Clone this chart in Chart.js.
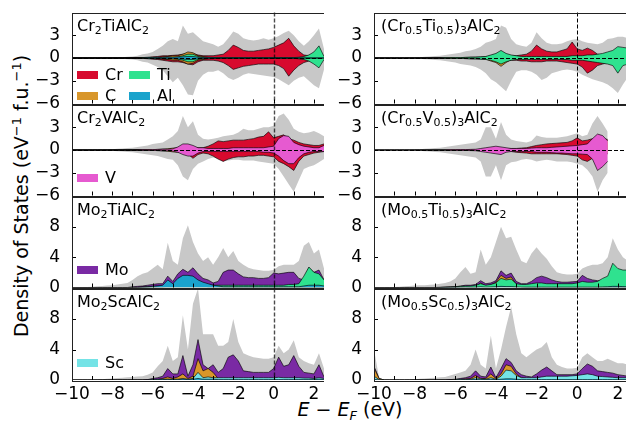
<!DOCTYPE html>
<html>
<head>
<meta charset="utf-8">
<script src="https://cdn.jsdelivr.net/npm/chart.js@4.4.0/dist/chart.umd.min.js"></script>
<style>
  body { margin: 0; width: 626px; height: 422px; overflow: hidden; background: #fff; position: relative;
         font-family: "DejaVu Sans", sans-serif; color: #000; }
  canvas { position: absolute; }
  .title { position: absolute; font-size: 16px; line-height: 16px; white-space: nowrap; }
  .title sub { font-size: 11px; line-height: 0; vertical-align: -3px; }
  .patch { position: absolute; width: 21px; height: 8px; }
  .legtxt { position: absolute; font-size: 16px; line-height: 16px; white-space: nowrap; }
  #ylab { position: absolute; width: 400px; left: -179px; top: 186px; font-size: 19px; line-height: 20px;
          text-align: center; transform: rotate(-90deg); white-space: nowrap; }
  #ylab sup { font-size: 13px; line-height: 0; vertical-align: 7px; }
  #xlab { position: absolute; width: 200px; left: 250px; top: 400px; font-size: 19px; line-height: 19px;
          text-align: center; white-space: nowrap; }
  #xlab sub { font-size: 13px; line-height: 0; vertical-align: -4px; }
</style>
</head>
<body>
<div id="ylab">Density of States (eV<sup>−1</sup> f.u.<sup>−1</sup>)</div>
<div id="xlab"><i>E</i> − <i>E</i><sub><i>F</i></sub> (eV)</div>
<script>
// energy grid, eV
const energies = [
  -10, -9.75, -9.5, -9.25, -9, -8.75, -8.5, -8.25, -8, -7.75,
  -7.5, -7.25, -7, -6.75, -6.5, -6.25, -6, -5.75, -5.5, -5.25,
  -5, -4.75, -4.5, -4.25, -4, -3.75, -3.5, -3.25, -3, -2.75,
  -2.5, -2.25, -2, -1.75, -1.5, -1.25, -1, -0.75, -0.5, -0.25,
  0, 0.25, 0.5, 0.75, 1, 1.25, 1.5, 1.75, 2, 2.25, 2.5
];

// --- Cr2TiAlC2 (spin up / spin down)
const ctaTotUp = [
  0, 0, 0, 0, 0, 0, 0, 0.02, 0.03, 0.05,
  0.1, 0.15, 0.2, 0.3, 0.5, 0.6, 0.8, 1.2, 1.6, 2.2,
  2.5, 2.2, 4.3, 3.2, 3.4, 2.8, 2.2, 2.0, 1.8, 1.5,
  1.8, 2.6, 3.5, 3.2, 2.6, 2.4, 2.3, 2.4, 2.6, 2.4,
  2.6, 2.9, 3.3, 3.6, 3.0, 2.2, 1.6, 2.2, 3.0, 3.9, 1.2
];
const ctaTotDn = [
  0, 0, 0, 0, 0, 0, 0, -0.02, -0.03, -0.05,
  -0.1, -0.15, -0.2, -0.3, -0.5, -0.6, -0.9, -1.2, -1.6, -2.4,
  -3.2, -2.6, -3.6, -4.8, -4.9, -3.0, -2.2, -1.8, -1.8, -1.6,
  -2.0, -2.6, -2.9, -2.6, -2.2, -2.0, -2.1, -2.2, -2.3, -2.4,
  -2.5, -2.8, -3.2, -3.6, -3.0, -2.6, -2.4, -3.0, -3.6, -4.0, -1.5
];
const ctaCrUp = [
  0, 0, 0, 0, 0, 0, 0, 0, 0, 0,
  0, 0, 0.02, 0.03, 0.05, 0.1, 0.15, 0.2, 0.3, 0.3,
  0.35, 0.4, 0.5, 0.6, 0.6, 0.4, 0.3, 0.3, 0.3, 0.4,
  0.5, 1.0, 1.7, 1.4, 1.0, 0.9, 0.9, 1.0, 1.1, 1.2,
  1.4, 1.7, 2.0, 2.6, 1.6, 0.9, 0.4, 0.3, 0.3, 0.3, 0.05
];
const ctaCrDn = [
  0, 0, 0, 0, 0, 0, 0, 0, 0, 0,
  0, 0, -0.02, -0.03, -0.05, -0.1, -0.15, -0.2, -0.3, -0.4,
  -0.5, -0.5, -0.6, -0.8, -0.9, -0.5, -0.3, -0.3, -0.3, -0.4,
  -0.6, -1.0, -1.5, -1.3, -1.1, -1.0, -0.9, -0.8, -0.8, -0.8,
  -0.8, -1.0, -1.4, -2.4, -1.6, -1.0, -0.6, -0.4, -0.3, -0.3, -0.1
];
const ctaCUp = [
  0, 0, 0, 0, 0, 0, 0, 0, 0, 0,
  0, 0, 0, 0, 0.02, 0.05, 0.08, 0.1, 0.15, 0.2,
  0.3, 0.3, 0.5, 0.8, 0.7, 0.3, 0.2, 0.1, 0.05, 0.05,
  0.05, 0.05, 0.05, 0.05, 0.05, 0.03, 0.03, 0.03, 0.03, 0.03,
  0.03, 0.03, 0.03, 0.03, 0.03, 0.03, 0.03, 0.03, 0.03, 0.03, 0.02
];
const ctaCDn = [
  0, 0, 0, 0, 0, 0, 0, 0, 0, 0,
  0, 0, 0, 0, -0.02, -0.05, -0.08, -0.1, -0.15, -0.2,
  -0.3, -0.3, -0.5, -0.8, -0.7, -0.3, -0.2, -0.1, -0.05, -0.05,
  -0.05, -0.05, -0.05, -0.05, -0.05, -0.03, -0.03, -0.03, -0.03, -0.03,
  -0.03, -0.03, -0.03, -0.03, -0.03, -0.03, -0.03, -0.03, -0.03, -0.03, -0.02
];
const ctaTiUp = [
  0, 0, 0, 0, 0, 0, 0, 0, 0, 0,
  0, 0, 0, 0, 0.02, 0.03, 0.05, 0.05, 0.1, 0.1,
  0.1, 0.15, 0.3, 0.5, 0.5, 0.2, 0.1, 0.05, 0.05, 0.05,
  0.05, 0.05, 0.05, 0.05, 0.05, 0.05, 0.05, 0.05, 0.05, 0.05,
  0.05, 0.05, 0.05, 0.05, 0.05, 0.1, 0.2, 0.4, 0.8, 1.6, 0.2
];
const ctaTiDn = [
  0, 0, 0, 0, 0, 0, 0, 0, 0, 0,
  0, 0, 0, 0, -0.02, -0.03, -0.05, -0.05, -0.1, -0.1,
  -0.1, -0.15, -0.3, -0.5, -0.5, -0.2, -0.1, -0.05, -0.05, -0.05,
  -0.05, -0.05, -0.05, -0.05, -0.05, -0.05, -0.05, -0.05, -0.05, -0.05,
  -0.05, -0.05, -0.05, -0.05, -0.05, -0.1, -0.2, -0.4, -0.8, -1.3, -0.2
];
const ctaAlUp = [
  0, 0, 0, 0, 0, 0, 0, 0, 0, 0,
  0, 0, 0, 0, 0, 0.02, 0.03, 0.05, 0.08, 0.1,
  0.1, 0.12, 0.15, 0.2, 0.2, 0.1, 0.05, 0.05, 0.03, 0.03,
  0.03, 0.03, 0.03, 0.03, 0.03, 0.03, 0.03, 0.03, 0.03, 0.03,
  0.03, 0.03, 0.03, 0.03, 0.03, 0.03, 0.03, 0.03, 0.03, 0.03, 0.02
];
const ctaAlDn = [
  0, 0, 0, 0, 0, 0, 0, 0, 0, 0,
  0, 0, 0, 0, 0, -0.02, -0.03, -0.05, -0.08, -0.1,
  -0.1, -0.12, -0.15, -0.2, -0.2, -0.1, -0.05, -0.05, -0.03, -0.03,
  -0.03, -0.03, -0.03, -0.03, -0.03, -0.03, -0.03, -0.03, -0.03, -0.03,
  -0.03, -0.03, -0.03, -0.03, -0.03, -0.03, -0.03, -0.03, -0.03, -0.03, -0.02
];

// --- Cr2VAlC2
const cvaTotUp = [
  0, 0, 0, 0, 0, 0, 0.02, 0.05, 0.1, 0.15,
  0.2, 0.25, 0.3, 0.4, 0.5, 0.6, 0.8, 0.9, 1.0, 1.4,
  1.8, 2.5, 4.5, 3.0, 3.8, 2.0, 1.5, 1.4, 1.5, 1.6,
  1.8, 1.9, 2.0, 2.3, 2.8, 2.6, 2.6, 2.8, 3.0, 3.0,
  3.2, 4.5, 4.8, 4.0, 2.8, 2.4, 2.2, 2.3, 2.5, 2.2, 1.8
];
const cvaTotDn = [
  0, 0, 0, 0, 0, 0, -0.02, -0.05, -0.1, -0.15,
  -0.2, -0.25, -0.3, -0.4, -0.5, -0.6, -0.7, -0.8, -1.0, -1.2,
  -1.3, -2.0, -3.5, -4.0, -2.5, -1.8, -1.5, -1.2, -1.0, -1.2,
  -1.5, -1.4, -1.3, -1.3, -1.4, -1.4, -1.4, -1.5, -1.6, -1.7,
  -1.8, -2.5, -3.5, -4.5, -5.5, -4.0, -2.5, -2.2, -2.0, -1.6, -1.2
];
const cvaCrUp = [
  0, 0, 0, 0, 0, 0, 0, 0, 0, 0,
  0, 0, 0, 0.02, 0.03, 0.05, 0.05, 0.08, 0.1, 0.1,
  0.15, 0.2, 0.3, 0.3, 0.3, 0.3, 0.3, 0.5, 0.8, 1.2,
  1.1, 1.2, 1.3, 1.3, 1.3, 1.4, 1.5, 1.7, 1.8, 2.4,
  1.6, 1.8, 2.0, 1.5, 1.3, 1.0, 0.8, 0.7, 0.6, 0.6, 0.8
];
const cvaCrDn = [
  0, 0, 0, 0, 0, 0, 0, 0, 0, 0,
  0, 0, 0, -0.02, -0.03, -0.05, -0.05, -0.08, -0.1, -0.1,
  -0.15, -0.2, -0.3, -0.5, -1.1, -0.6, -0.4, -0.5, -0.8, -1.2,
  -1.5, -1.2, -1.0, -0.9, -0.9, -0.8, -0.8, -0.7, -0.7, -0.8,
  -0.9, -1.5, -1.8, -2.2, -2.7, -1.5, -0.8, -0.6, -0.4, -0.3, -0.2
];
const cvaCUp = [
  0, 0, 0, 0, 0, 0, 0, 0, 0, 0,
  0, 0, 0, 0, 0, 0.02, 0.05, 0.08, 0.1, 0.15,
  0.25, 0.3, 0.2, 0.15, 0.1, 0.05, 0.05, 0.05, 0.03, 0.03,
  0.03, 0.03, 0.03, 0.03, 0.03, 0.03, 0.03, 0.03, 0.03, 0.03,
  0.02, 0.02, 0.02, 0.02, 0.02, 0.02, 0.02, 0.02, 0.02, 0.02, 0.02
];
const cvaCDn = [
  0, 0, 0, 0, 0, 0, 0, 0, 0, 0,
  0, 0, 0, 0, 0, -0.02, -0.05, -0.08, -0.1, -0.15,
  -0.25, -0.3, -0.2, -0.15, -0.1, -0.05, -0.05, -0.05, -0.03, -0.03,
  -0.03, -0.03, -0.03, -0.03, -0.03, -0.03, -0.03, -0.03, -0.03, -0.03,
  -0.02, -0.02, -0.02, -0.02, -0.02, -0.02, -0.02, -0.02, -0.02, -0.02, -0.02
];
const cvaVUp = [
  0, 0, 0, 0, 0, 0, 0, 0, 0, 0,
  0, 0, 0, 0, 0.02, 0.03, 0.05, 0.05, 0.1, 0.1,
  0.15, 0.4, 0.8, 0.8, 0.6, 0.3, 0.3, 0.2, 0.2, 0.2,
  0.2, 0.2, 0.3, 0.3, 0.3, 0.3, 0.3, 0.3, 0.3, 0.4,
  0.5, 1.5, 1.9, 1.8, 1.0, 0.7, 0.5, 0.4, 0.3, 0.3, 0.6
];
const cvaVDn = [
  0, 0, 0, 0, 0, 0, 0, 0, 0, 0,
  0, 0, 0, 0, -0.02, -0.03, -0.05, -0.05, -0.1, -0.1,
  -0.15, -0.3, -0.6, -0.8, -0.8, -0.4, -0.2, -0.2, -0.2, -0.2,
  -0.2, -0.2, -0.2, -0.2, -0.2, -0.2, -0.2, -0.2, -0.3, -0.3,
  -0.4, -0.8, -1.4, -1.8, -1.8, -1.0, -0.5, -0.3, -0.2, -0.2, -0.2
];

// --- Mo2TiAlC2
const mtaTot = [
  0, 0, 0.05, 0.08, 0.1, 0.15, 0.2, 0.25, 0.3, 0.4,
  0.5, 0.6, 1.0, 1.5, 1.8, 2.0, 2.5, 3.0, 2.4, 5.9,
  3.5, 3.0, 6.5, 8.2, 6.0, 4.5, 3.5, 4.0, 3.0, 4.0,
  5.2, 4.0, 4.8, 3.5, 3.0, 2.6, 2.4, 2.3, 2.2, 2.2,
  2.3, 2.8, 3.0, 3.0, 3.0, 3.5, 5.5, 6.0, 4.5, 5.0, 2.5
];
const mtaMo = [
  0, 0, 0, 0, 0, 0, 0, 0, 0, 0,
  0, 0, 0.1, 0.15, 0.2, 0.3, 0.4, 0.5, 0.5, 1.5,
  0.8, 1.8, 2.4, 2.0, 2.6, 1.8, 1.2, 1.0, 0.6, 0.8,
  2.0, 2.3, 2.3, 1.8, 1.4, 1.3, 1.3, 1.2, 1.2, 1.3,
  1.9, 1.8, 1.9, 2.0, 2.0, 1.2, 1.0, 2.6, 2.0, 2.3, 1.0
];
const mtaC = [
  0, 0, 0, 0, 0, 0, 0, 0, 0, 0,
  0, 0, 0, 0, 0.05, 0.1, 0.15, 0.2, 0.2, 0.3,
  0.2, 0.3, 0.3, 0.3, 0.3, 0.2, 0.2, 0.1, 0.1, 0.1,
  0.05, 0.05, 0.05, 0.05, 0.05, 0.05, 0.05, 0.05, 0.05, 0.05,
  0.05, 0.05, 0.05, 0.05, 0.05, 0.05, 0.05, 0.05, 0.05, 0.05, 0.05
];
const mtaTi = [
  0, 0, 0, 0, 0, 0, 0, 0, 0, 0,
  0, 0, 0, 0.02, 0.05, 0.05, 0.08, 0.1, 0.1, 0.15,
  0.15, 0.2, 0.2, 0.2, 0.2, 0.2, 0.2, 0.25, 0.3, 0.3,
  0.3, 0.3, 0.3, 0.3, 0.3, 0.3, 0.3, 0.3, 0.3, 0.3,
  0.3, 0.3, 0.3, 0.4, 0.4, 0.5, 1.5, 2.7, 2.0, 1.8, 1.0
];
const mtaAl = [
  0, 0, 0, 0, 0, 0, 0, 0, 0, 0,
  0, 0, 0, 0, 0.05, 0.1, 0.15, 0.2, 0.3, 1.0,
  0.5, 1.2, 1.6, 1.6, 1.5, 1.0, 0.7, 0.5, 0.3, 0.2,
  0.1, 0.1, 0.1, 0.1, 0.1, 0.1, 0.1, 0.1, 0.1, 0.1,
  0.1, 0.1, 0.1, 0.1, 0.1, 0.1, 0.2, 0.3, 0.3, 0.3, 0.2
];

// --- Mo2ScAlC2
const msaTot = [
  0, 0, 0, 0, 0, 0.05, 0.1, 0.15, 0.2, 0.25,
  0.3, 0.35, 0.4, 0.45, 0.5, 0.7, 1.0, 1.8, 2.5, 4.5,
  2.5, 3.0, 8.5, 4.0, 10.0, 12.0, 6.0, 6.0, 6.0, 4.5,
  4.5, 5.0, 8.0, 5.0, 3.5, 3.2, 3.0, 2.9, 2.8, 2.8,
  3.0, 4.5, 3.5, 4.0, 5.2, 3.0, 2.5, 2.2, 2.0, 3.5, 1.5
];
const msaMo = [
  0, 0, 0, 0, 0, 0, 0, 0, 0, 0,
  0, 0, 0, 0, 0, 0.05, 0.2, 0.3, 0.5, 1.5,
  0.8, 0.8, 3.2, 0.5, 2.0, 5.3, 2.0, 1.5, 2.0, 1.0,
  1.5, 3.0, 3.3, 2.5, 1.2, 1.1, 1.0, 1.0, 1.0, 1.0,
  1.5, 3.0, 1.8, 2.0, 3.2, 1.8, 1.0, 0.9, 0.8, 2.0, 0.4
];
const msaC = [
  0, 0, 0, 0, 0, 0, 0, 0, 0, 0,
  0, 0, 0, 0, 0, 0, 0.05, 0.1, 0.2, 0.4,
  0.2, 0.4, 0.8, 0.2, 0.5, 2.8, 1.2, 1.5, 1.0, 0.2,
  0.1, 0.1, 0.1, 0.05, 0.05, 0.05, 0.05, 0.05, 0.05, 0.05,
  0.05, 0.05, 0.05, 0.05, 0.05, 0.05, 0.05, 0.05, 0.05, 0.05, 0.05
];
const msaSc = [
  0, 0, 0, 0, 0, 0, 0, 0, 0, 0,
  0, 0, 0, 0, 0, 0, 0.02, 0.05, 0.1, 0.1,
  0.1, 0.1, 0.2, 0.1, 0.2, 1.0, 0.3, 0.4, 0.3, 0.3,
  0.3, 0.3, 0.3, 0.3, 0.3, 0.3, 0.3, 0.3, 0.3, 0.3,
  0.3, 0.35, 0.3, 0.3, 0.3, 0.3, 0.25, 0.25, 0.2, 0.3, 0.2
];
const msaAl = [
  0, 0, 0, 0, 0, 0, 0, 0, 0, 0,
  0, 0, 0, 0, 0, 0, 0.02, 0.03, 0.05, 0.08,
  0.05, 0.05, 0.1, 0.05, 0.1, 0.2, 0.1, 0.1, 0.1, 0.05,
  0.05, 0.05, 0.05, 0.05, 0.05, 0.05, 0.05, 0.05, 0.05, 0.05,
  0.05, 0.05, 0.05, 0.05, 0.05, 0.05, 0.05, 0.05, 0.05, 0.1, 0.05
];

// --- (Cr0.5Ti0.5)3AlC2
const ctTotUp = [
  0, 0, 0, 0, 0, 0, 0, 0.02, 0.05, 0.1,
  0.15, 0.2, 0.25, 0.3, 0.4, 0.5, 0.6, 0.7, 0.9, 1.0,
  1.2, 1.5, 2.0, 2.2, 2.5, 4.3, 4.0, 2.5, 1.8, 1.6,
  1.5, 2.0, 3.4, 2.6, 2.0, 1.8, 1.8, 1.9, 2.2, 2.4,
  2.5, 2.2, 2.0, 1.9, 1.8, 2.0, 2.5, 2.6, 2.8, 2.8, 2.6
];
const ctTotDn = [
  0, 0, 0, 0, 0, 0, 0, -0.02, -0.05, -0.1,
  -0.15, -0.2, -0.25, -0.3, -0.4, -0.5, -0.6, -0.8, -0.9, -1.0,
  -1.2, -1.5, -2.0, -2.8, -3.2, -3.8, -4.4, -3.0, -1.8, -1.6,
  -1.6, -1.8, -2.2, -2.9, -2.6, -2.0, -1.8, -1.6, -1.5, -1.6,
  -1.8, -2.2, -2.5, -2.8, -3.0, -3.2, -3.5, -4.0, -4.6, -3.5, -2.5
];
const ctCrUp = [
  0, 0, 0, 0, 0, 0, 0, 0, 0, 0,
  0, 0, 0, 0, 0.02, 0.03, 0.05, 0.05, 0.08, 0.1,
  0.1, 0.12, 0.15, 0.2, 0.2, 0.3, 0.3, 0.3, 0.3, 0.4,
  0.5, 0.9, 1.7, 1.2, 0.9, 0.8, 0.8, 1.0, 1.2, 2.1,
  1.2, 1.0, 1.3, 1.0, 0.5, 0.4, 0.3, 0.3, 0.2, 0.2, 0.2
];
const ctCrDn = [
  0, 0, 0, 0, 0, 0, 0, 0, 0, 0,
  0, 0, 0, 0, -0.02, -0.03, -0.05, -0.05, -0.08, -0.1,
  -0.1, -0.12, -0.15, -0.2, -0.3, -0.4, -0.4, -0.3, -0.3, -0.4,
  -0.4, -0.5, -0.5, -0.5, -0.4, -0.4, -0.4, -0.5, -0.6, -0.7,
  -0.8, -1.2, -2.0, -1.6, -1.0, -0.8, -0.6, -0.5, -0.5, -0.4, -0.3
];
const ctCUp = [
  0, 0, 0, 0, 0, 0, 0, 0, 0, 0,
  0, 0, 0, 0, 0, 0.02, 0.03, 0.05, 0.05, 0.08,
  0.1, 0.1, 0.15, 0.3, 0.5, 0.8, 0.5, 0.2, 0.1, 0.05,
  0.05, 0.05, 0.05, 0.05, 0.05, 0.05, 0.05, 0.05, 0.05, 0.05,
  0.03, 0.03, 0.03, 0.03, 0.03, 0.03, 0.03, 0.03, 0.03, 0.03, 0.03
];
const ctCDn = [
  0, 0, 0, 0, 0, 0, 0, 0, 0, 0,
  0, 0, 0, 0, 0, -0.02, -0.03, -0.05, -0.05, -0.08,
  -0.1, -0.1, -0.15, -0.4, -0.6, -1.1, -0.6, -0.2, -0.1, -0.05,
  -0.05, -0.05, -0.05, -0.05, -0.05, -0.05, -0.05, -0.05, -0.05, -0.05,
  -0.03, -0.03, -0.03, -0.03, -0.03, -0.03, -0.03, -0.03, -0.03, -0.03, -0.03
];
const ctTiUp = [
  0, 0, 0, 0, 0, 0, 0, 0, 0, 0,
  0, 0, 0, 0, 0.02, 0.03, 0.05, 0.05, 0.08, 0.1,
  0.1, 0.15, 0.2, 0.4, 0.6, 1.0, 0.6, 0.4, 0.3, 0.2,
  0.2, 0.2, 0.2, 0.2, 0.2, 0.2, 0.2, 0.2, 0.2, 0.3,
  0.3, 0.3, 0.4, 0.4, 0.5, 0.6, 0.8, 1.0, 1.5, 1.4, 1.3
];
const ctTiDn = [
  0, 0, 0, 0, 0, 0, 0, 0, 0, 0,
  0, 0, 0, 0, -0.02, -0.03, -0.05, -0.05, -0.08, -0.1,
  -0.1, -0.15, -0.2, -0.3, -0.5, -0.8, -0.5, -0.3, -0.2, -0.2,
  -0.2, -0.2, -0.2, -0.2, -0.2, -0.2, -0.2, -0.2, -0.2, -0.3,
  -0.3, -0.3, -0.4, -0.5, -0.6, -0.7, -0.8, -1.0, -2.0, -1.0, -0.8
];

// --- (Cr0.5V0.5)3AlC2, computed only up to 1.5 eV
const cvTotUp = [
  0, 0, 0, 0, 0, 0, 0.02, 0.03, 0.05, 0.1,
  0.15, 0.2, 0.25, 0.3, 0.4, 0.5, 0.6, 0.7, 0.8, 0.9,
  1.0, 1.4, 3.0, 3.0, 1.5, 3.7, 2.0, 1.4, 1.2, 1.1,
  1.0, 1.2, 1.9, 1.7, 1.6, 1.6, 1.6, 1.7, 1.8, 2.0,
  2.2, 1.8, 2.0, 3.5, 4.5, 3.5, 2.4, null, null, null, null
];
const cvTotDn = [
  0, 0, 0, 0, 0, 0, -0.02, -0.03, -0.05, -0.1,
  -0.15, -0.2, -0.25, -0.3, -0.4, -0.5, -0.6, -0.7, -0.8, -0.9,
  -1.0, -1.5, -3.5, -3.5, -2.0, -4.0, -2.0, -1.6, -1.5, -1.3,
  -1.2, -1.3, -1.5, -1.4, -1.3, -1.4, -1.5, -1.5, -1.5, -1.6,
  -1.8, -2.0, -2.6, -3.5, -5.5, -4.0, -3.0, null, null, null, null
];
const cvCrUp = [
  0, 0, 0, 0, 0, 0, 0, 0, 0, 0,
  0, 0, 0, 0, 0, 0.02, 0.03, 0.05, 0.05, 0.05,
  0.05, 0.08, 0.1, 0.1, 0.1, 0.15, 0.15, 0.2, 0.2, 0.25,
  0.3, 0.45, 0.6, 0.7, 0.8, 0.85, 0.9, 0.95, 1.0, 1.2,
  1.6, 1.2, 1.3, 1.5, 1.5, 1.5, 1.4, null, null, null, null
];
const cvCrDn = [
  0, 0, 0, 0, 0, 0, 0, 0, 0, 0,
  0, 0, 0, 0, 0, -0.02, -0.03, -0.05, -0.05, -0.05,
  -0.05, -0.08, -0.1, -0.1, -0.1, -0.15, -0.15, -0.2, -0.3, -0.35,
  -0.4, -0.5, -0.5, -0.5, -0.5, -0.5, -0.5, -0.55, -0.6, -0.7,
  -0.8, -1.3, -1.5, -1.1, -0.8, -0.6, -0.5, null, null, null, null
];
const cvVUp = [
  0, 0, 0, 0, 0, 0, 0, 0, 0, 0,
  0, 0, 0, 0, 0, 0.02, 0.03, 0.05, 0.05, 0.08,
  0.1, 0.2, 0.3, 0.4, 0.5, 0.4, 0.3, 0.2, 0.2, 0.2,
  0.2, 0.25, 0.3, 0.3, 0.3, 0.35, 0.4, 0.45, 0.5, 0.55,
  0.6, 0.7, 0.8, 1.5, 2.1, 1.9, 1.2, null, null, null, null
];
const cvVDn = [
  0, 0, 0, 0, 0, 0, 0, 0, 0, 0,
  0, 0, 0, 0, 0, -0.02, -0.03, -0.05, -0.05, -0.08,
  -0.1, -0.2, -0.3, -0.4, -0.5, -0.6, -0.3, -0.2, -0.2, -0.2,
  -0.2, -0.2, -0.3, -0.3, -0.3, -0.35, -0.4, -0.4, -0.45, -0.5,
  -0.5, -0.55, -0.6, -1.2, -2.7, -2.2, -1.5, null, null, null, null
];

// --- (Mo0.5Ti0.5)3AlC2
const mtTot = [
  0, 0, 0, 0.02, 0.05, 0.1, 0.15, 0.2, 0.25, 0.3,
  0.3, 0.35, 0.4, 0.5, 0.6, 0.8, 1.2, 2.0, 2.7, 1.8,
  2.0, 5.0, 3.0, 4.0, 6.0, 8.0, 6.5, 6.7, 5.0, 3.5,
  3.2, 4.5, 5.3, 4.5, 3.8, 2.8, 2.0, 1.8, 1.7, 1.7,
  1.8, 2.5, 2.8, 3.0, 3.0, 3.2, 4.0, 6.5, 5.0, 4.0, 3.5
];
const mtMo = [
  0, 0, 0, 0, 0, 0, 0, 0, 0, 0,
  0, 0, 0, 0.02, 0.05, 0.08, 0.1, 0.2, 0.3, 0.3,
  0.4, 0.9, 0.5, 0.6, 0.9, 2.2, 1.6, 1.9, 0.8, 0.5,
  0.5, 0.8, 1.3, 1.5, 1.3, 1.0, 0.8, 0.7, 0.7, 0.75,
  0.8, 1.6, 1.2, 1.0, 0.9, 0.9, 0.9, 2.0, 1.6, 1.4, 1.2
];
const mtC = [
  0, 0, 0, 0, 0, 0, 0, 0, 0, 0,
  0, 0, 0, 0, 0, 0.02, 0.05, 0.1, 0.1, 0.1,
  0.1, 0.6, 0.2, 0.35, 0.7, 1.6, 1.2, 1.4, 0.4, 0.1,
  0.05, 0.05, 0.05, 0.05, 0.05, 0.05, 0.05, 0.05, 0.05, 0.05,
  0.05, 0.05, 0.05, 0.05, 0.05, 0.05, 0.05, 0.05, 0.05, 0.05, 0.05
];
const mtTi = [
  0, 0, 0, 0, 0, 0, 0, 0, 0, 0,
  0, 0, 0, 0.02, 0.05, 0.08, 0.1, 0.15, 0.2, 0.2,
  0.3, 0.5, 0.3, 0.4, 0.6, 1.2, 1.0, 1.1, 0.5, 0.4,
  0.4, 0.5, 0.6, 0.6, 0.5, 0.5, 0.5, 0.5, 0.5, 0.5,
  0.6, 0.8, 0.7, 0.7, 0.8, 1.2, 1.5, 3.2, 2.5, 2.3, 2.3
];
const mtAl = [
  0, 0, 0, 0, 0, 0, 0, 0, 0, 0,
  0, 0, 0, 0, 0.02, 0.03, 0.05, 0.05, 0.08, 0.05,
  0.05, 0.1, 0.05, 0.08, 0.1, 0.15, 0.12, 0.12, 0.08, 0.05,
  0.05, 0.05, 0.05, 0.05, 0.05, 0.05, 0.05, 0.05, 0.05, 0.05,
  0.05, 0.05, 0.05, 0.05, 0.05, 0.08, 0.1, 0.15, 0.15, 0.12, 0.1
];

// --- (Mo0.5Sc0.5)3AlC2
const msTot = [
  4.0, 0.3, 0, 0, 0, 0, 0, 0.02, 0.1, 0.15,
  0.2, 0.25, 0.3, 0.35, 0.4, 0.6, 0.8, 1.0, 1.2, 2.0,
  4.0, 2.0, 1.5, 5.8, 1.5, 4.0, 7.0, 9.6, 6.0, 3.5,
  3.0, 3.5, 4.0, 4.3, 5.0, 3.0, 2.0, 1.7, 1.5, 1.5,
  1.6, 3.0, 3.5, 3.0, 2.5, 2.5, 2.8, 2.5, 2.2, 2.2, 2.0
];
const msMo = [
  1.8, 0.2, 0, 0, 0, 0, 0, 0, 0, 0,
  0, 0, 0, 0, 0, 0.05, 0.1, 0.2, 0.3, 0.5,
  1.2, 0.5, 0.4, 1.7, 0.3, 1.5, 2.8, 2.3, 1.2, 0.7,
  0.5, 0.4, 0.8, 1.3, 1.7, 1.2, 0.7, 0.7, 0.7, 0.7,
  0.8, 1.5, 2.1, 1.8, 1.2, 1.1, 1.0, 0.9, 0.7, 0.6, 0.5
];
const msC = [
  1.6, 0.2, 0, 0, 0, 0, 0, 0, 0, 0,
  0, 0, 0, 0, 0, 0, 0.05, 0.1, 0.15, 0.2,
  0.6, 0.2, 0.2, 0.8, 0.2, 0.8, 2.0, 1.8, 0.8, 0.3,
  0.2, 0.1, 0.1, 0.1, 0.1, 0.05, 0.05, 0.05, 0.05, 0.05,
  0.05, 0.05, 0.05, 0.05, 0.05, 0.05, 0.05, 0.05, 0.05, 0.05, 0.05
];
const msSc = [
  0.5, 0.05, 0, 0, 0, 0, 0, 0, 0, 0,
  0, 0, 0, 0, 0, 0, 0.02, 0.05, 0.05, 0.1,
  0.3, 0.15, 0.1, 0.3, 0.1, 0.5, 1.3, 1.2, 0.6, 0.3,
  0.3, 0.3, 0.3, 0.4, 0.5, 0.5, 0.5, 0.5, 0.5, 0.55,
  0.6, 0.7, 0.8, 0.7, 0.5, 0.45, 0.4, 0.35, 0.3, 0.3, 0.3
];
const msAl = [
  0.1, 0, 0, 0, 0, 0, 0, 0, 0, 0,
  0, 0, 0, 0, 0, 0, 0, 0.02, 0.03, 0.05,
  0.05, 0.05, 0.05, 0.08, 0.05, 0.1, 0.15, 0.15, 0.1, 0.05,
  0.05, 0.05, 0.05, 0.05, 0.05, 0.05, 0.05, 0.05, 0.05, 0.05,
  0.05, 0.05, 0.05, 0.05, 0.05, 0.05, 0.05, 0.05, 0.05, 0.05, 0.05
];

const COLORS = {
  total: '#c8c8c8',
  Cr: '#d70a2e',
  Ti: '#2fe28f',
  C: '#d8962a',
  Al: '#1aa3cc',
  V: '#e65ad0',
  Mo: '#7a2aa4',
  Sc: '#74e3e6'
};

// layout of the 2x4 grid (plot areas)
const colLeft = [72, 374];
const colWidth = [252, 254];
const rowTop = [12, 104, 196, 288];
const rowHeight = 92;
const AXIS_W = 60;
const PAD = 12;
const XLAB_H = 26;

const panels = [
  { col: 0, row: 0, spin: true, title: 'Cr<sub>2</sub>TiAlC<sub>2</sub>',
    series: [[COLORS.total, ctaTotUp, ctaTotDn], [COLORS.Cr, ctaCrUp, ctaCrDn], [COLORS.C, ctaCUp, ctaCDn],
             [COLORS.Ti, ctaTiUp, ctaTiDn], [COLORS.Al, ctaAlUp, ctaAlDn]],
    legend: [['Cr', COLORS.Cr, 5, 63], ['Ti', COLORS.Ti, 57, 63], ['C', COLORS.C, 5, 84], ['Al', COLORS.Al, 57, 84]] },
  { col: 0, row: 1, spin: true, title: 'Cr<sub>2</sub>VAlC<sub>2</sub>',
    series: [[COLORS.total, cvaTotUp, cvaTotDn], [COLORS.Cr, cvaCrUp, cvaCrDn], [COLORS.C, cvaCUp, cvaCDn],
             [COLORS.V, cvaVUp, cvaVDn]],
    legend: [['V', COLORS.V, 5, 74]] },
  { col: 0, row: 2, spin: false, title: 'Mo<sub>2</sub>TiAlC<sub>2</sub>',
    series: [[COLORS.total, mtaTot], [COLORS.Mo, mtaMo], [COLORS.C, mtaC], [COLORS.Ti, mtaTi], [COLORS.Al, mtaAl]],
    legend: [['Mo', COLORS.Mo, 5, 74]] },
  { col: 0, row: 3, spin: false, title: 'Mo<sub>2</sub>ScAlC<sub>2</sub>',
    series: [[COLORS.total, msaTot], [COLORS.Mo, msaMo], [COLORS.C, msaC], [COLORS.Sc, msaSc], [COLORS.Al, msaAl]],
    legend: [['Sc', COLORS.Sc, 5, 75]] },
  { col: 1, row: 0, spin: true, title: '(Cr<sub>0.5</sub>Ti<sub>0.5</sub>)<sub>3</sub>AlC<sub>2</sub>',
    series: [[COLORS.total, ctTotUp, ctTotDn], [COLORS.Cr, ctCrUp, ctCrDn], [COLORS.C, ctCUp, ctCDn],
             [COLORS.Ti, ctTiUp, ctTiDn]],
    legend: [] },
  { col: 1, row: 1, spin: true, title: '(Cr<sub>0.5</sub>V<sub>0.5</sub>)<sub>3</sub>AlC<sub>2</sub>',
    series: [[COLORS.total, cvTotUp, cvTotDn], [COLORS.Cr, cvCrUp, cvCrDn], [COLORS.V, cvVUp, cvVDn]],
    legend: [] },
  { col: 1, row: 2, spin: false, title: '(Mo<sub>0.5</sub>Ti<sub>0.5</sub>)<sub>3</sub>AlC<sub>2</sub>',
    series: [[COLORS.total, mtTot], [COLORS.Mo, mtMo], [COLORS.C, mtC], [COLORS.Ti, mtTi], [COLORS.Al, mtAl]],
    legend: [] },
  { col: 1, row: 3, spin: false, title: '(Mo<sub>0.5</sub>Sc<sub>0.5</sub>)<sub>3</sub>AlC<sub>2</sub>',
    series: [[COLORS.total, msTot], [COLORS.Mo, msMo], [COLORS.C, msC], [COLORS.Sc, msSc], [COLORS.Al, msAl]],
    legend: [] }
];

const tickFont = { family: 'DejaVu Sans', size: 17, lineHeight: 1 };
const fmt = v => (v < 0 ? '\u2212' + Math.abs(v) : String(v));
const toPoints = vals => energies.map((e, i) => ({ x: e, y: vals[i] }));

// frame, inward ticks, dashed guide lines
const framePlugin = {
  id: 'frame',
  afterDatasetsDraw(chart, args, opts) {
    const { ctx, chartArea: a, scales: { x, y } } = chart;
    ctx.save();
    ctx.setLineDash([4, 2]);
    ctx.strokeStyle = opts.vColor;
    ctx.lineWidth = opts.vWidth;
    const x0 = Math.round(x.getPixelForValue(0)) + 0.5;
    ctx.beginPath();
    ctx.moveTo(x0, a.top);
    ctx.lineTo(x0, a.bottom);
    ctx.stroke();
    if (opts.spin) {
      const y0 = Math.round(y.getPixelForValue(0)) + 0.5;
      ctx.strokeStyle = '#000';
      ctx.lineWidth = 1;
      ctx.beginPath();
      ctx.moveTo(a.left, y0);
      ctx.lineTo(a.right, y0);
      ctx.stroke();
    }
    ctx.setLineDash([]);
    ctx.strokeStyle = '#000';
    ctx.lineWidth = 1;
    ctx.beginPath();
    x.ticks.forEach(t => {
      const px = Math.round(x.getPixelForValue(t.value)) + 0.5;
      if (px <= a.left + 1 || px >= a.right - 1) return;
      ctx.moveTo(px, a.bottom);
      ctx.lineTo(px, a.bottom - 4);
    });
    y.ticks.forEach(t => {
      const py = Math.round(y.getPixelForValue(t.value)) + 0.5;
      if (py <= a.top + 1 || py >= a.bottom - 1) return;
      ctx.moveTo(a.left, py);
      ctx.lineTo(a.left + 4, py);
    });
    ctx.stroke();
    ctx.strokeStyle = '#222';
    ctx.strokeRect(Math.round(a.left) + 0.5, Math.round(a.top) + 0.5, Math.round(a.width), Math.round(a.height));
    ctx.restore();
  }
};

panels.forEach(p => {
  const bottomRow = p.row === 3;
  const left = colLeft[p.col] - AXIS_W;
  const top = rowTop[p.row] - PAD;
  const width = AXIS_W + colWidth[p.col];
  const height = PAD + rowHeight + (bottomRow ? XLAB_H : PAD);

  const canvas = document.createElement('canvas');
  canvas.width = width;
  canvas.height = height;
  canvas.style.left = left + 'px';
  canvas.style.top = top + 'px';
  document.body.appendChild(canvas);

  // later series sit on top: lower order is drawn last
  const datasets = [];
  p.series.forEach((s, k) => {
    const isTotal = k === 0;
    s.slice(1).forEach(vals => {
      datasets.push({
        data: toPoints(vals),
        order: p.series.length - k,
        backgroundColor: s[0],
        borderColor: isTotal ? 'rgba(0,0,0,0)' : 'rgba(0,0,0,0.8)',
        borderWidth: isTotal ? 0 : 0.8,
        fill: 'origin',
        pointRadius: 0,
        tension: 0
      });
    });
  });

  const yMin = p.spin ? -6 : 0;
  const yMax = p.spin ? 6 : 12;

  new Chart(canvas.getContext('2d'), {
    type: 'line',
    data: { datasets },
    options: {
      responsive: false,
      animation: false,
      devicePixelRatio: 1,
      layout: { padding: { top: PAD, bottom: bottomRow ? 0 : PAD, left: 0, right: 0 } },
      plugins: {
        legend: { display: false },
        tooltip: { enabled: false },
        frame: { spin: p.spin, vColor: p.col === 0 ? 'rgba(0,0,0,0.7)' : '#000', vWidth: p.col === 0 ? 1.4 : 1 }
      },
      scales: {
        x: {
          type: 'linear', min: -10, max: 2.5,
          afterFit: s => { s.height = bottomRow ? XLAB_H : 0; },
          grid: { display: false },
          border: { display: false },
          ticks: {
            display: bottomRow, stepSize: 1, includeBounds: false, autoSkip: false, maxRotation: 0,
            padding: -2, font: tickFont, color: '#000',
            callback: v => (v % 2 === 0 ? fmt(v) : '')
          }
        },
        y: {
          min: yMin, max: yMax,
          afterFit: s => { s.width = AXIS_W; },
          grid: { display: false },
          border: { display: false },
          ticks: {
            stepSize: p.spin ? 3 : 4, autoSkip: false, padding: 4, font: tickFont, color: '#000',
            callback: v => (v === yMax ? '' : fmt(v))
          }
        }
      }
    },
    plugins: [framePlugin]
  });

  const t = document.createElement('div');
  t.className = 'title';
  t.innerHTML = p.title;
  t.style.left = (colLeft[p.col] + (p.col === 0 ? 5 : 7)) + 'px';
  t.style.top = (rowTop[p.row] + 6) + 'px';
  document.body.appendChild(t);

  p.legend.forEach(([label, color, dx, dy]) => {
    const patch = document.createElement('div');
    patch.className = 'patch';
    patch.style.background = color;
    patch.style.left = (colLeft[p.col] + dx) + 'px';
    patch.style.top = (rowTop[p.row] + dy - 4) + 'px';
    document.body.appendChild(patch);
    const txt = document.createElement('div');
    txt.className = 'legtxt';
    txt.textContent = label;
    txt.style.left = (colLeft[p.col] + dx + 28) + 'px';
    txt.style.top = (rowTop[p.row] + dy - 8) + 'px';
    document.body.appendChild(txt);
  });
});
</script>
</body>
</html>
